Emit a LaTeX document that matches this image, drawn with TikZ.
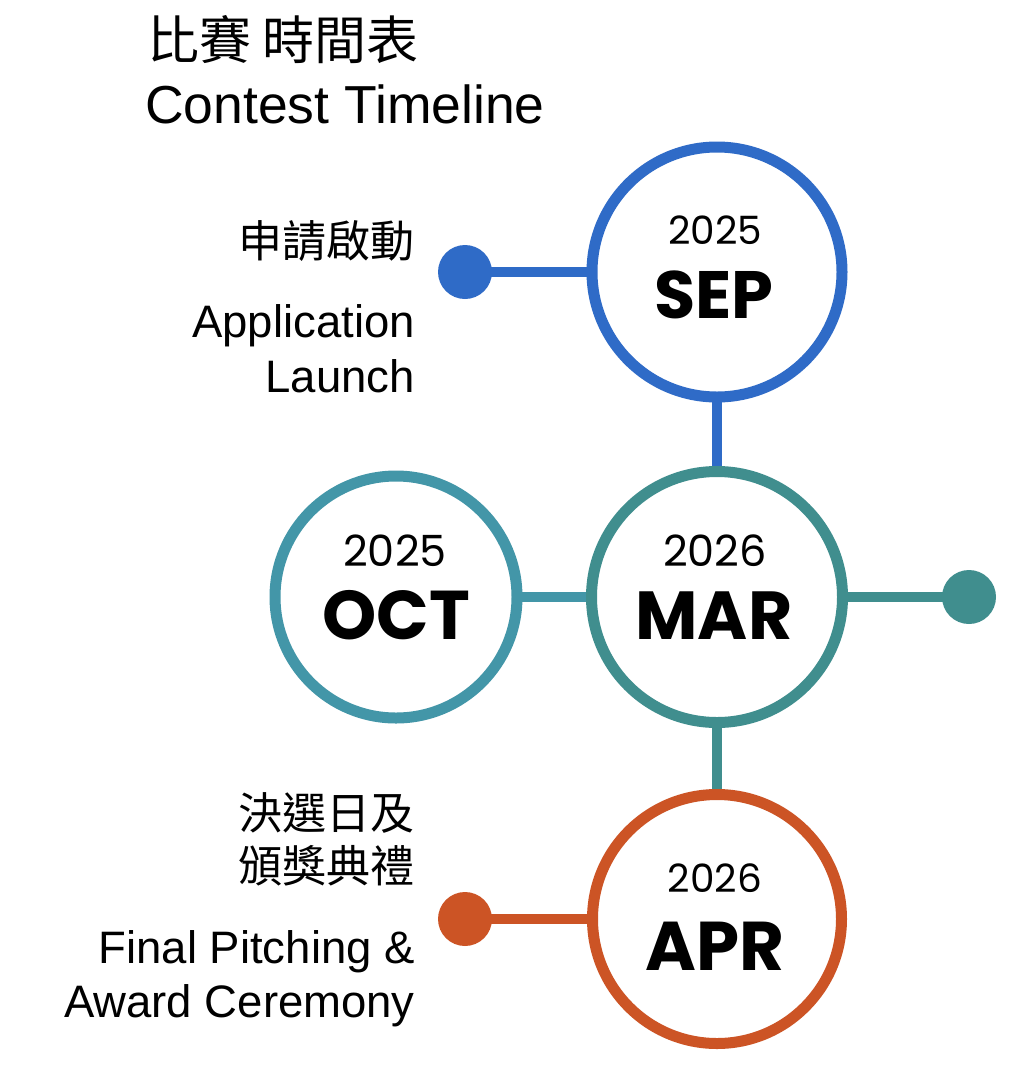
\documentclass[tikz,border=0pt]{standalone}
\usepackage{fontspec}
\setmainfont{Liberation Sans}
\newfontfamily\cjk{Noto Sans CJK TC}
\newfontfamily\pop{Poppins}
\definecolor{cblue}{RGB}{47,107,199}
\definecolor{cteal}{RGB}{64,142,142}
\definecolor{coct}{RGB}{67,150,168}
\definecolor{corange}{RGB}{204,84,37}
\pgfdeclarelayer{paper}
\pgfdeclarelayer{bg}
\pgfsetlayers{paper,bg,main}
\begin{document}
\begin{tikzpicture}[x=1pt,y=-1pt,
  ring/.style={circle,draw=#1,line width=11pt,fill=white,inner sep=0pt,minimum size=250pt},
  dot/.style={circle,fill=#1,inner sep=0pt,minimum size=54pt},
  conn/.style={draw=#1,line width=10pt},
  txt/.style={inner sep=0pt,anchor=base east},
  yr/.style={inner sep=0pt,anchor=base,font=\pop\fontsize{#1}{#1}\selectfont},
  mon/.style={inner sep=0pt,anchor=base,font=\pop\bfseries\fontsize{#1}{#1}\selectfont},
  en/.style={txt,font=\fontsize{45.5}{52}\selectfont},
  zh/.style={txt,font=\cjk\fontsize{44}{52}\selectfont}
]
\begin{pgfonlayer}{paper}
\fill[white] (0,0) rectangle (1036,1066);
\end{pgfonlayer}
\useasboundingbox (0,0) rectangle (1036,1066);

% title
\node[inner sep=0pt,anchor=base west,font=\cjk\fontsize{52}{60}\selectfont] (tzh) at (147,59) {比賽 時間表};
\node[inner sep=0pt,anchor=base west,font=\fontsize{53.5}{60}\selectfont] (ten) at (145,123) {Contest Timeline};

% circles
\node[ring=cblue, minimum size=250pt] (sep) at (717,272) {};
\node[ring=cteal, minimum size=251pt] (mar) at (717,597) {};
\node[ring=coct, minimum size=242pt] (oct) at (396,597) {};
\node[ring=corange, minimum size=249pt] (apr) at (717,919) {};

% dots
\node[dot=cblue] (sepdot) at (465,272) {};
\node[dot=cteal] (mardot) at (969,597) {};
\node[dot=corange] (aprdot) at (465,919) {};

% connectors
\begin{pgfonlayer}{bg}
\draw[conn=cblue] (sepdot.center) -- (sep.center);
\draw[conn=cblue] (sep.center) -- (mar.center);
\draw[conn=coct] (oct.center) -- (mar.center);
\draw[conn=cteal] (mar.center) -- (mardot.center);
\draw[conn=cteal] (mar.center) -- (apr.center);
\draw[conn=corange] (aprdot.center) -- (apr.center);
\end{pgfonlayer}

% circle texts
\node[yr=39] (sepy) at (715,244) {2025};
\node[mon=67] (sepm) at (714,318) {SEP};
\node[yr=43] (octy) at (395,566) {2025};
\node[mon=69] (octm) at (396,639) {OCT};
\node[yr=43] (mary) at (715,566) {2026};
\node[mon=68] (marm) at (714,639) {MAR};
\node[yr=39] (apry) at (715,892) {2026};
\node[mon=69] (aprm) at (715,970) {APR};

% side labels
\node[zh] (l1a) at (415,257) {申請啟動};
\node[en] (l1b) at (415,337) {Application};
\node[en] (l1c) at (415,392) {Launch};
\node[zh] (l2a) at (415,829) {決選日及};
\node[zh] (l2b) at (415,882) {頒獎典禮};
\node[en] (l2c) at (415,963) {Final Pitching \&};
\node[en] (l2d) at (415,1017) {Award Ceremony};
\end{tikzpicture}
\end{document}
